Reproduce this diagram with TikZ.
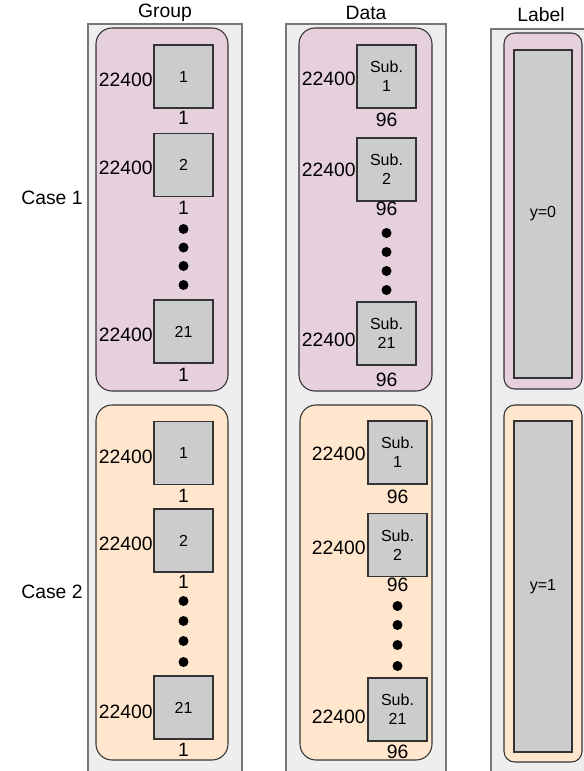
\documentclass[tikz,border=0pt]{standalone}
\usepackage{fontspec}
\setmainfont{Liberation Sans}
\definecolor{colfill}{HTML}{EEEEEE}
\definecolor{colline}{HTML}{777777}
\definecolor{pinkfill}{HTML}{E6D0DE}
\definecolor{orangefill}{HTML}{FFE6CC}
\definecolor{boxfill}{HTML}{CCCCCC}
\definecolor{boxline}{HTML}{333333}
\begin{document}
\begin{tikzpicture}[x=0.75pt,y=-0.75pt,
  column/.style={draw=colline,fill=colfill,line width=0.8pt},
  casebox/.style={draw=boxline,line width=0.8pt,rounded corners=12pt},
  labbox/.style={draw=boxline,line width=0.8pt,rounded corners=8pt},
  sq/.style={draw=boxline,fill=boxfill,line width=0.8pt,minimum width=44.25pt,minimum height=47.25pt,inner sep=0pt,font=\fontsize{12}{14}\selectfont,align=center},
  dimtxt/.style={font=\fontsize{14.5}{16}\selectfont,inner sep=0pt},
  title/.style={font=\fontsize{14.5}{16}\selectfont,inner sep=0pt},
  dot/.style={circle,fill=black,minimum size=7.5pt,inner sep=0pt}]
\useasboundingbox (0,0) rectangle (584,771);
% columns
\path[column] (88,24) rectangle (242,775);
\path[column] (286,24) rectangle (446,775);
\path[column] (491,29) rectangle (600,775);
% titles
\node[title] (tg) at (165,13) {Group};
\node[title] (td) at (366,13) {Data};
\node[title] (tl) at (541,15) {Label};
\node[title] (c1) at (52,198) {Case 1};
\node[title] (c2) at (52,592) {Case 2};
% case boxes
\path[casebox,fill=pinkfill] (96,28) rectangle (228,391);
\path[casebox,fill=pinkfill] (299,28) rectangle (432,391);
\path[casebox,fill=orangefill] (96,405) rectangle (228,760);
\path[casebox,fill=orangefill] (300,405) rectangle (432,760);
\path[labbox,fill=pinkfill] (504,33) rectangle (582,389);
\path[labbox,fill=orangefill] (504,405) rectangle (582,762);
% label column inner
\node[draw=boxline,fill=boxfill,line width=0.8pt,minimum width=43.5pt,minimum height=246pt,inner sep=0pt,font=\fontsize{12}{14}\selectfont] (l0) at (543,214) {y=0};
\node[draw=boxline,fill=boxfill,line width=0.8pt,minimum width=43.5pt,minimum height=248.25pt,inner sep=0pt,font=\fontsize{12}{14}\selectfont] (l1) at (543,586.5) {y=1};
% Group case 1
\node[sq] (ga1) at (183.5,76.5) {1};
\node[dimtxt,anchor=east] (ga1l) at (153,80) {22400};
\node[dimtxt] (ga1b) at (183.5,118) {1};
\node[sq] (ga2) at (183.5,165) {2};
\node[dimtxt,anchor=east] (ga2l) at (153,168) {22400};
\node[dimtxt] (ga2b) at (183.5,208) {1};
\node[dot] (gad1) at (183.5,229) {};
\node[dot] (gad2) at (183.5,247.5) {};
\node[dot] (gad3) at (183.5,266) {};
\node[dot] (gad4) at (183.5,285) {};
\node[sq] (ga3) at (183.5,331.5) {21};
\node[dimtxt,anchor=east] (ga3l) at (153,335) {22400};
\node[dimtxt] (ga3b) at (183.5,375) {1};
% Group case 2
\node[sq] (gb1) at (183.5,453) {1};
\node[dimtxt,anchor=east] (gb1l) at (153,457) {22400};
\node[dimtxt] (gb1b) at (183.5,496) {1};
\node[sq] (gb2) at (183.5,540.5) {2};
\node[dimtxt,anchor=east] (gb2l) at (153,544) {22400};
\node[dimtxt] (gb2b) at (183.5,582) {1};
\node[dot] (gbd1) at (183.5,601) {};
\node[dot] (gbd2) at (183.5,621) {};
\node[dot] (gbd3) at (183.5,641) {};
\node[dot] (gbd4) at (183.5,662) {};
\node[sq] (gb3) at (183.5,707.5) {21};
\node[dimtxt,anchor=east] (gb3l) at (153,712) {22400};
\node[dimtxt] (gb3b) at (183.5,750) {1};
% Data case 1
\node[sq] (da1) at (386.5,76.5) {Sub.\\1};
\node[dimtxt,anchor=east] (da1l) at (356,79) {22400};
\node[dimtxt] (da1b) at (386.5,120) {96};
\node[sq] (da2) at (386.5,169.5) {Sub.\\2};
\node[dimtxt,anchor=east] (da2l) at (356,170) {22400};
\node[dimtxt] (da2b) at (386.5,209) {96};
\node[dot] (dad1) at (386.5,233) {};
\node[dot] (dad2) at (386.5,252) {};
\node[dot] (dad3) at (386.5,271) {};
\node[dot] (dad4) at (386.5,290) {};
\node[sq] (da3) at (386.5,333.5) {Sub.\\21};
\node[dimtxt,anchor=east] (da3l) at (356,340) {22400};
\node[dimtxt] (da3b) at (386.5,380) {96};
% Data case 2
\node[sq] (db1) at (397.5,452.5) {Sub.\\1};
\node[dimtxt,anchor=east] (db1l) at (366,454) {22400};
\node[dimtxt] (db1b) at (397.5,497) {96};
\node[sq] (db2) at (397.5,545) {Sub.\\2};
\node[dimtxt,anchor=east] (db2l) at (366,548) {22400};
\node[dimtxt] (db2b) at (397.5,585) {96};
\node[dot] (dbd1) at (397.5,606) {};
\node[dot] (dbd2) at (397.5,625) {};
\node[dot] (dbd3) at (397.5,645) {};
\node[dot] (dbd4) at (397.5,666) {};
\node[sq] (db3) at (397.5,709.5) {Sub.\\21};
\node[dimtxt,anchor=east] (db3l) at (366,717) {22400};
\node[dimtxt] (db3b) at (397.5,752) {96};
\end{tikzpicture}
\end{document}
